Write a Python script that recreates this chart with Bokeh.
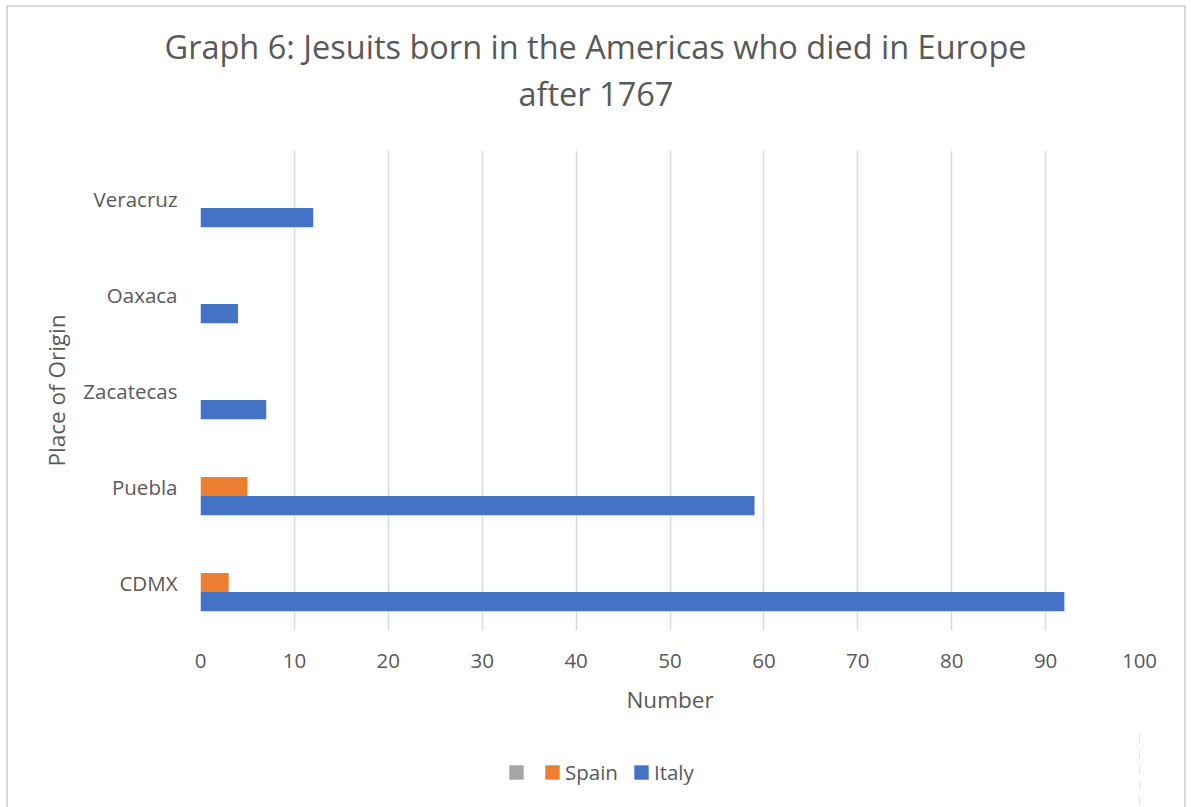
from bokeh.plotting import figure
from bokeh.layouts import column
from bokeh.models import (ColumnDataSource, FactorRange, Range1d, FixedTicker,
                          Title, Legend, LegendItem)
from bokeh.transform import dodge
from bokeh.embed import file_html
from bokeh.resources import INLINE

# Jesuits born in the Americas who died in Europe after 1767, by place of origin
places = ["CDMX", "Puebla", "Zacatecas", "Oaxaca", "Veracruz"]
italy = [92, 59, 7, 4, 12]
spain = [3, 5, 0, 0, 0]
unnamed = [0, 0, 0, 0, 0]
x_ticks = [0, 10, 20, 30, 40, 50, 60, 70, 80, 90, 100]

title_lines = ["Graph 6: Jesuits born in the Americas who died in Europe", "after 1767"]
series_names = ["", "Spain", "Italy"]

TEXT = "#595959"
GRID = "#d9d9d9"
FONT = "Open Sans"
BLUE = "#4472C4"
ORANGE = "#ED7D31"
GRAY = "#A5A5A5"

src = ColumnDataSource(dict(place=places, italy=italy, spain=spain, unnamed=unnamed))

bar_h = 0.2
series = [("unnamed", GRAY, bar_h), ("spain", ORANGE, 0.0), ("italy", BLUE, -bar_h)]


def add_bars(fig):
    return [fig.hbar(y=dodge("place", off, range=fig.y_range), right=col, left=0,
                     height=bar_h, source=src, fill_color=color, line_color=None)
            for col, color, off in series]


# ---- main chart -------------------------------------------------------------
p = figure(
    frame_width=939, frame_height=480,
    y_range=FactorRange(*places), x_range=Range1d(0, 100),
    output_backend="svg", toolbar_location=None,
    min_border_left=192, min_border_right=45,
    min_border_top=143, min_border_bottom=100,
    background_fill_color="white", border_fill_color="white",
)
p.outline_line_color = None
p.title.visible = False
add_bars(p)

for ax in (p.xaxis, p.yaxis):
    ax.axis_line_color = None
    ax.major_tick_line_color = None
    ax.minor_tick_line_color = None
    ax.major_tick_out = 0
    ax.major_tick_in = 0
    ax.major_label_text_font = FONT
    ax.major_label_text_font_size = "20.5px"
    ax.major_label_text_color = TEXT
    ax.axis_label_text_font = FONT
    ax.axis_label_text_font_size = "22.5px"
    ax.axis_label_text_font_style = "normal"
    ax.axis_label_text_color = TEXT

p.xaxis.ticker = FixedTicker(ticks=x_ticks)
p.xaxis.axis_label = "Number"
p.xaxis.major_label_standoff = 23
p.xaxis.axis_label_standoff = 13

p.yaxis.axis_label = "Place of Origin"
p.yaxis.major_label_standoff = 23
p.yaxis.axis_label_standoff = 8

p.xgrid.grid_line_color = GRID
p.xgrid.grid_line_width = 1.5
p.ygrid.grid_line_color = None

# two-line chart title, centred over the whole chart (offsets from the frame's left edge)
title_style = dict(text_font=FONT, text_font_size="32.5px", text_color=TEXT,
                   text_font_style="normal", align="left", standoff=0)
p.add_layout(Title(text=" ", text_font_size="1px", standoff=32), "above")
p.add_layout(Title(text=title_lines[1], offset=318, **title_style), "above")
p.add_layout(Title(text=title_lines[0], offset=-36, **title_style), "above")

# ---- legend strip -------------------------------------------------------------
# its bars fall outside the visible x range, so only the legend shows
lg = figure(
    width=1176, height=77,
    y_range=FactorRange(*places), x_range=Range1d(-2, -1),
    x_axis_type=None, y_axis_type=None,
    output_backend="svg", toolbar_location=None, min_border=0,
    background_fill_color=None, border_fill_color=None,
)
lg.outline_line_color = None
lg.title.visible = False
lg_renderers = add_bars(lg)

legend = Legend(
    items=[LegendItem(label=name, renderers=[r]) for name, r in zip(series_names, lg_renderers)],
    orientation="horizontal", location=(307, 21.5),
    padding=0, margin=0, spacing=14, label_standoff=4, label_width=0,
    glyph_width=18, glyph_height=18,
    border_line_color=None, background_fill_alpha=0,
    label_text_font=FONT, label_text_font_size="20.5px", label_text_color=TEXT,
)
lg.add_layout(legend)

page = column(
    p, lg, spacing=0,
    styles={
        "margin-left": "6px",
        "margin-top": "5px",
        "border-left": "2px solid #d9d9d9",
        "border-top": "2px solid #d9d9d9",
        "border-right": "2px solid #d9d9d9",
        "background-color": "white",
    },
)

open("out.html", "w").write(file_html(page, INLINE))
